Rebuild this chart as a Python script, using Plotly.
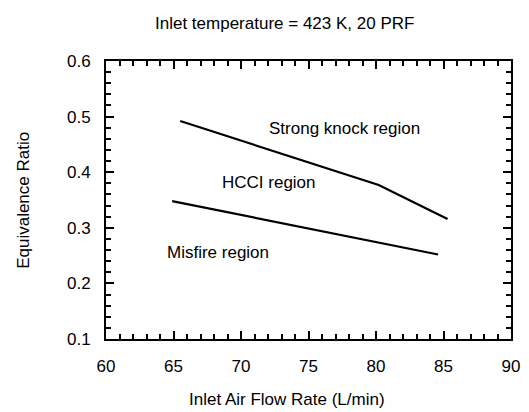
import plotly.graph_objects as go

# Boundary lines
upper_x = [65.5, 80.2, 85.3]
upper_y = [0.492, 0.377, 0.316]
lower_x = [64.9, 84.6]
lower_y = [0.348, 0.252]

region_labels = ["Strong knock region", "HCCI region", "Misfire region"]
label_x = [77.7, 72.1, 68.3]
label_y = [0.478, 0.382, 0.255]

title_text = "Inlet temperature = 423 K, 20 PRF"
x_title = "Inlet Air Flow Rate (L/min)"
y_title = "Equivalence Ratio"

FONT = "Liberation Sans, Arial, sans-serif"
FS = 17

fig = go.Figure()
fig.add_trace(go.Scatter(x=upper_x, y=upper_y, mode="lines",
                         line=dict(color="black", width=2.2), showlegend=False))
fig.add_trace(go.Scatter(x=lower_x, y=lower_y, mode="lines",
                         line=dict(color="black", width=2.2), showlegend=False))

for t, x, y in zip(region_labels, label_x, label_y):
    fig.add_annotation(x=x, y=y, text=t, showarrow=False,
                       xanchor="center", yanchor="middle",
                       font=dict(size=FS, color="black", family=FONT))

fig.add_annotation(xref="paper", yref="paper", x=(288 - 106) / 414, y=1 + 37 / 278,
                   text=title_text, showarrow=False, xanchor="center", yanchor="middle",
                   font=dict(size=FS, color="black", family=FONT))
fig.add_annotation(xref="paper", yref="paper", x=(291 - 106) / 414, y=-60 / 278,
                   text=x_title, showarrow=False, xanchor="center", yanchor="middle",
                   font=dict(size=FS, color="black", family=FONT))
fig.add_annotation(xref="paper", yref="paper", x=-(106 - 21) / 414, y=(339 - 200) / 278,
                   text=y_title, showarrow=False, textangle=-90,
                   xanchor="center", yanchor="middle",
                   font=dict(size=FS, color="black", family=FONT))

axis_common = dict(showline=True, linecolor="black", linewidth=2, mirror="ticks",
                   ticks="inside", ticklen=8, tickwidth=2, tickcolor="black",
                   showgrid=False, zeroline=False,
                   tickfont=dict(size=FS, color="black", family=FONT))

fig.update_xaxes(range=[60, 90], dtick=5, tick0=60, ticklabelstandoff=11,
                 minor=dict(dtick=1, ticks="inside", ticklen=5, tickwidth=1.5, tickcolor="black"),
                 **axis_common)
fig.update_yaxes(range=[0.1, 0.6], dtick=0.1, tick0=0.1, tickformat=".1f", ticklabelstandoff=10,
                 minor=dict(dtick=0.02, ticks="inside", ticklen=5, tickwidth=1.5, tickcolor="black"),
                 **axis_common)

fig.update_layout(width=529, height=412, margin=dict(l=106, r=9, t=61, b=73),
                  plot_bgcolor="white", paper_bgcolor="white", showlegend=False)

fig.write_html("out.html")
